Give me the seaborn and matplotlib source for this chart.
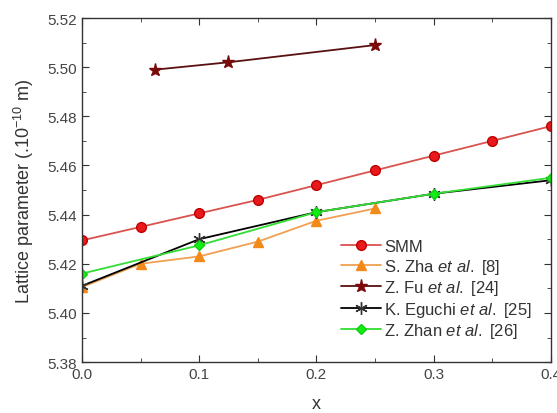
import numpy as np
import pandas as pd
import seaborn as sns
import matplotlib.pyplot as plt
from matplotlib.ticker import MultipleLocator

# data
smm_x = [0.0, 0.05, 0.1, 0.15, 0.2, 0.25, 0.3, 0.35, 0.4]
smm_y = [5.4295, 5.435, 5.4405, 5.446, 5.452, 5.458, 5.464, 5.470, 5.476]

zha_x = [0.0, 0.05, 0.1, 0.15, 0.2, 0.25]
zha_y = [5.4105, 5.420, 5.423, 5.429, 5.4375, 5.4425]

fu_x = [0.0625, 0.125, 0.25]
fu_y = [5.499, 5.502, 5.509]

eguchi_x = [0.0, 0.1, 0.2, 0.3, 0.4]
eguchi_y = [5.411, 5.430, 5.441, 5.4485, 5.454]

zhan_x = [0.0, 0.1, 0.2, 0.3, 0.4]
zhan_y = [5.416, 5.4275, 5.441, 5.4485, 5.455]

sns.set_style("ticks")
plt.rcParams['font.family'] = ['Liberation Sans', 'DejaVu Sans']
plt.rcParams['mathtext.fontset'] = 'custom'
plt.rcParams['mathtext.rm'] = 'Liberation Sans'
plt.rcParams['mathtext.it'] = 'Liberation Sans:italic'

fig = plt.figure(figsize=(5.57, 4.14), dpi=100)
ax = fig.add_axes([0.147, 0.123, 0.842, 0.831])

series = [
    (smm_x, smm_y, "SMM", "#d9534f", "o", "#e8181c", "#c00000", 7),
    (zha_x, zha_y, "S. Zha $\\it{et\\ al.}$ [8]", "#f0a050", "^", "#f28a1a", "#f28a1a", 7.5),
    (fu_x, fu_y, "Z. Fu $\\it{et\\ al.}$ [24]", "#5a1010", "*", "#7a0a0a", "#7a0a0a", 9.5),
    (eguchi_x, eguchi_y, "K. Eguchi $\\it{et\\ al.}$ [25]", "black", (6, 2, 0), "none", "#333333", 9),
    (zhan_x, zhan_y, "Z. Zhan $\\it{et\\ al.}$ [26]", "#33dd33", "D", "#11ee11", "#11cc11", 5.5),
]

for xs, ys, label, lc, mk, mfc, mec, ms in series:
    df = pd.DataFrame({"x": xs, "y": ys})
    sns.lineplot(data=df, x="x", y="y", ax=ax, label=label, color=lc, lw=1.3,
                 marker=mk, markersize=ms, markerfacecolor=mfc,
                 markeredgecolor=mec, markeredgewidth=1.0)

ax.set_xlim(0.0, 0.4)
ax.set_ylim(5.38, 5.52)
ax.xaxis.set_major_locator(MultipleLocator(0.1))
ax.xaxis.set_minor_locator(MultipleLocator(0.05))
ax.yaxis.set_major_locator(MultipleLocator(0.02))
ax.yaxis.set_minor_locator(MultipleLocator(0.01))
ax.xaxis.set_major_formatter(plt.FormatStrFormatter('%.1f'))
ax.yaxis.set_major_formatter(plt.FormatStrFormatter('%.2f'))
ax.tick_params(which='both', direction='in', top=True, right=True, colors='#333333',
               labelcolor='#444444', labelsize=11)
ax.tick_params(which='major', length=5)
ax.tick_params(which='minor', length=3, labelsize=0)
for s in ax.spines.values():
    s.set_color('#333333')
    s.set_linewidth(1.0)

ax.set_xlabel("x", fontsize=13, color='#333333', labelpad=10)
ax.set_ylabel("Lattice parameter (.10$^{-10}$ m)", fontsize=13, color='#333333', labelpad=8)

leg = ax.legend(loc='lower right', bbox_to_anchor=(0.985, 0.03), frameon=False, fontsize=12,
                handlelength=2.4, handletextpad=0.2, labelspacing=0.15, borderaxespad=0.3)
for t in leg.get_texts():
    t.set_color('#333333')

fig.savefig("out.png", dpi=100)
